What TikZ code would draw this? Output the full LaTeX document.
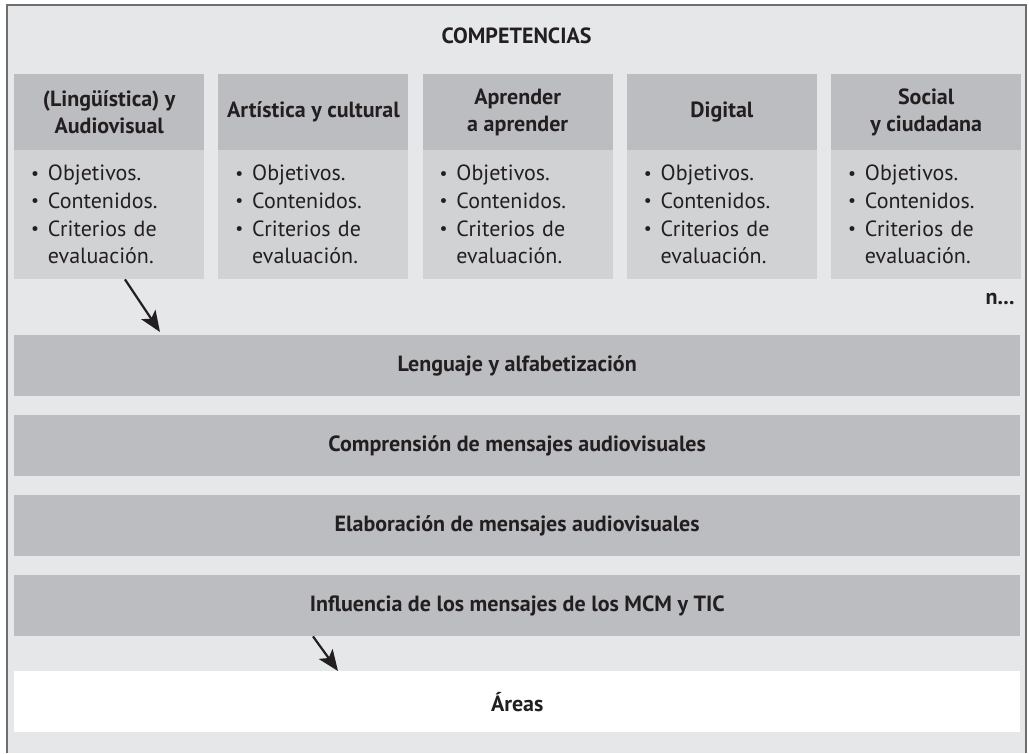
\documentclass[tikz,border=0pt]{standalone}
\usepackage{fontspec}
\setmainfont{PT Sans}
\usepackage{xcolor}
\usepackage{tikz}
\usetikzlibrary{positioning, calc, arrows.meta}

\definecolor{fondo}{HTML}{E6E7E8}
\definecolor{cabecera}{HTML}{BCBDC0}
\definecolor{cuerpo}{HTML}{D1D2D4}
\definecolor{marco}{HTML}{6D6E70}
\definecolor{tinta}{HTML}{231F20}

\newcommand{\punto}{\raisebox{0.08em}{\scalebox{0.8}{\textbullet}}\hspace{0.4em}}
\newcommand{\listacomp}{%
  \punto Objetivos.\\
  \punto Contenidos.\\
  \punto Criterios de\\
  \phantom{\punto}evaluación.}

\tikzset{
  cabbox/.style={fill=cabecera, minimum width=190pt, minimum height=76pt,
    inner sep=0pt, anchor=north west, align=center, text=tinta,
    font=\fontsize{22}{26.5}\selectfont\bfseries},
  listbox/.style={fill=cuerpo, minimum width=190pt, minimum height=129pt,
    inner xsep=17pt, inner ysep=0pt, text width=156pt, anchor=north west,
    align=left, text=tinta, font=\fontsize{22}{27.7}\selectfont},
  barra/.style={fill=cabecera, minimum width=1006pt, minimum height=61pt,
    inner sep=0pt, anchor=north west, text=tinta,
    font=\fontsize{22}{26}\selectfont\bfseries},
  flecha/.style={line width=2.2pt, tinta, -{Stealth[length=21pt, width=17pt, inset=5pt]}}
}

\begin{document}
\begin{tikzpicture}[x=1pt, y=-1pt]
    \useasboundingbox (0,0) rectangle (1029,753);
    % Fondo y marco
    \fill[fondo] (7,5) rectangle (1026,753);
    \draw[marco, line width=1.6pt] (7,753) -- (7,5) -- (1026,5) -- (1026,753);

    \node[text=tinta, font=\fontsize{22}{26}\selectfont\bfseries] (titulo) at (516.5,36) {COMPETENCIAS};

    % Competencias
    \foreach \n/\txt [count=\i from 0] in {ling/{(Lingüística) y\\Audiovisual},
        arts/{Artística y cultural}, apre/{Aprender\\a aprender},
        digi/{Digital}, soci/{Social\\y ciudadana}} {
        \node[cabbox] (cab-\n) at (14+\i*204.25,74) {\txt};
        \node[listbox] (lis-\n) at (14+\i*204.25,150) {\listacomp};
    }
    \node[anchor=base east, text=tinta, font=\fontsize{22}{26}\selectfont\bfseries] (puntos) at (1018,304) {n...};

    % Bloques
    \node[barra] (leng) at (14,335) {Lenguaje y alfabetización};
    \node[barra] (comp) at (14,415) {Comprensión de mensajes audiovisuales};
    \node[barra] (elab) at (14,495) {Elaboración de mensajes audiovisuales};
    \node[barra] (infl) at (14,575) {Influencia de los mensajes de los MCM y TIC};
    \node[barra, fill=white] (area) at (14,671) {Áreas};

    % Flechas
    \draw[flecha] ([xshift=111pt]lis-ling.south west) -- ([xshift=146pt,yshift=3pt]leng.north west);
    \draw[flecha] ([xshift=299pt]infl.south west) -- ([xshift=324pt]area.north west);
\end{tikzpicture}
\end{document}
